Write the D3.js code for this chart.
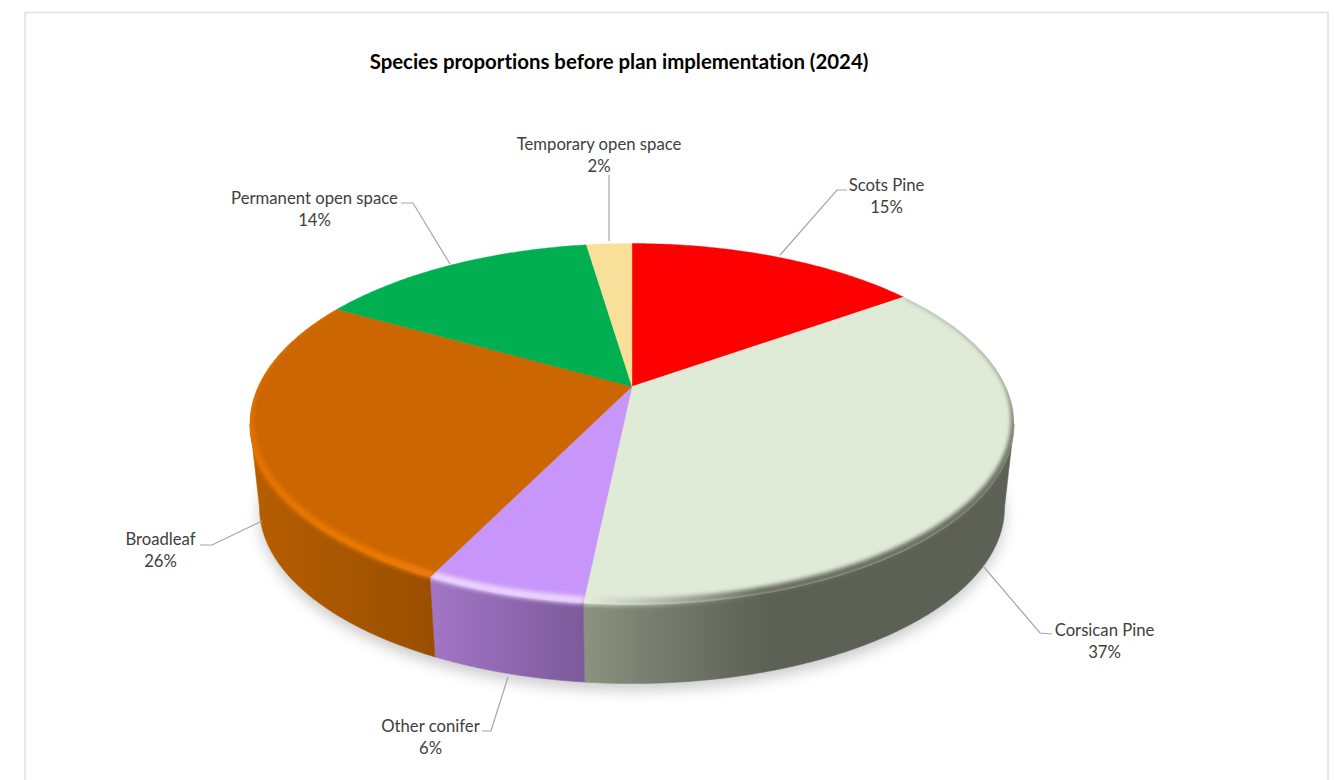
<!DOCTYPE html>
<html>
<head>
<meta charset="utf-8">
<script src="https://cdn.jsdelivr.net/npm/d3@7/dist/d3.min.js"></script>
<style>
html, body { margin: 0; padding: 0; background: #fff; }
svg { display: block; }
text { font-family: Lato, "Noto Sans", sans-serif; font-variant-ligatures: none; }
</style>
</head>
<body>
<svg id="chart" width="1334" height="780"></svg>
<script>
// Species shares in percent, clockwise from twelve o'clock
const species = ["Scots Pine", "Corsican Pine", "Other conifer", "Broadleaf", "Permanent open space", "Temporary open space"];
const shares = [15.15, 36.5, 5.6, 25.95, 14.45, 2.35];
const chartTitle = "Species proportions before plan implementation (2024)";

// Face colours, one per species
const faceColours = ["#ff0000", "#e0ebd7", "#c896fa", "#cc6600", "#00b050", "#f9e09a"];
// Side wall shading as [x, colour] stops, rim highlight likewise
const wallStops = [
  null,
  [[585, "#8b927f"], [680, "#70766a"], [770, "#5c6055"], [1014, "#5c6055"]],
  [[431, "#a375c6"], [586, "#7b5a9a"]],
  [[255, "#b65d02"], [435, "#9a4f00"]],
  null, null
];
const rimStops = [
  null,
  [[585, "#e6ecdd"], [660, "#b4baab"], [760, "#666b5d"], [1014, "#666b5d"]],
  [[431, "#ead4ff"], [586, "#ead4ff"]],
  [[250, "#e87400"], [431, "#ee7c08"]],
  null, null
];

// Leader lines and label anchors for each species
const labelLayout = [
  { x: 886.5, y: 190.5, line: [[847, 190], [837, 190], [780, 255]] },
  { x: 1104.5, y: 635.5, line: [[1052, 634], [1040, 633], [983, 566]] },
  { x: 430.5, y: 731.5, line: [[482, 731], [491, 731], [508, 677]] },
  { x: 160.5, y: 544.5, line: [[200, 545], [212, 545], [262, 521]] },
  { x: 314.5, y: 203.5, line: [[401, 203], [413, 203], [450, 264]] },
  { x: 599, y: 149.5, line: [[609, 175], [609, 241]] }
];

// Perspective disc: apex of the pie on screen, half axes and tilt strength
const apex = { x: 632, y: 386.5 };
const axisX = 373.7, axisY = 172.7, tilt = 0.2078;
// The lower disc sits further from the viewer, so it is a little smaller
const baseScale = 0.975, baseDrop = 84.5;
const wallFrom = 102 * Math.PI / 180, wallTo = 258 * Math.PI / 180;

function topPoint(theta, r = 1) {
  const u = Math.sin(theta) * r, v = -Math.cos(theta) * r, w = 1 - tilt * v;
  return [apex.x + axisX * u / w, apex.y + axisY * v / w];
}
function basePoint(theta) {
  const [x, y] = topPoint(theta);
  return [apex.x + baseScale * (x - apex.x), apex.y + baseDrop + baseScale * (y - apex.y)];
}
function samples(a0, a1) {
  const n = Math.max(2, Math.ceil((a1 - a0) / 0.01));
  return d3.range(n + 1).map(i => a0 + (a1 - a0) * i / n);
}
// The bevel is broad along the front of the disc and fades to a hairline at the back
function rimInner(theta) {
  return 1 - (0.003 + 0.022 * Math.max(0, -Math.cos(theta)));
}

const svg = d3.select("#chart");
const line = d3.line();
const defs = svg.append("defs");

defs.append("filter").attr("id", "shadowBlur")
  .attr("x", "-10%").attr("y", "-10%").attr("width", "120%").attr("height", "120%")
  .append("feGaussianBlur").attr("stdDeviation", 7);
defs.append("filter").attr("id", "rimBlur")
  .attr("filterUnits", "userSpaceOnUse")
  .attr("x", 200).attr("y", 200).attr("width", 900).attr("height", 500)
  .append("feGaussianBlur").attr("stdDeviation", 2);

function addGradient(id, stops) {
  const x0 = stops[0][0], x1 = stops[stops.length - 1][0];
  const g = defs.append("linearGradient").attr("id", id)
    .attr("gradientUnits", "userSpaceOnUse")
    .attr("x1", x0).attr("x2", x1).attr("y1", 0).attr("y2", 0);
  stops.forEach(s => g.append("stop")
    .attr("offset", (s[0] - x0) / (x1 - x0)).attr("stop-color", s[1]));
}

// Chart frame, open along the bottom
svg.append("path")
  .attr("d", line([[25, 780], [25, 12.5], [1328, 12.5], [1328, 780]]))
  .attr("fill", "none").attr("stroke", "#e0e0e0").attr("stroke-width", 1.5);

svg.append("text")
  .attr("x", 619).attr("y", 69).attr("text-anchor", "middle")
  .attr("font-size", 20.4).attr("font-weight", 700).attr("fill", "#000")
  .text(chartTitle);

const arcs = d3.pie().sort(null).value(d => d).startAngle(0).endAngle(2 * Math.PI)(shares);

// Soft drop shadow under the lower disc
svg.append("path")
  .attr("d", line(samples(0, 2 * Math.PI).map(basePoint)) + "Z")
  .attr("transform", "translate(0,7)")
  .attr("fill", "#000").attr("fill-opacity", 0.2)
  .attr("filter", "url(#shadowBlur)");

// Side walls of the front-facing slices
const wallPaths = arcs.map(a => {
  const from = Math.max(a.startAngle, wallFrom), to = Math.min(a.endAngle, wallTo);
  if (to <= from) return null;
  const angles = samples(from, to);
  return line(angles.map(t => topPoint(t)).concat(angles.slice().reverse().map(basePoint))) + "Z";
});
arcs.forEach((a, i) => {
  if (!wallPaths[i] || !wallStops[i]) return;
  addGradient("wall" + i, wallStops[i]);
  svg.append("path").attr("d", wallPaths[i])
    .attr("fill", `url(#wall${i})`)
    .attr("stroke", `url(#wall${i})`).attr("stroke-width", 0.5);
});

// Top face of every slice
const facePaths = arcs.map(a =>
  line([[apex.x, apex.y]].concat(samples(a.startAngle, a.endAngle).map(t => topPoint(t)))) + "Z");
svg.append("g").selectAll("path").data(arcs).join("path")
  .attr("d", (d, i) => facePaths[i])
  .attr("fill", (d, i) => faceColours[i])
  .attr("stroke", (d, i) => faceColours[i]).attr("stroke-width", 0.4);

// Bevelled rim along the front edge, confined to its own slice and wall
arcs.forEach((a, i) => {
  if (!rimStops[i]) return;
  addGradient("rim" + i, rimStops[i]);
  defs.append("clipPath").attr("id", "rimClip" + i)
    .append("path").attr("d", facePaths[i] + (wallPaths[i] || ""));
  const angles = samples(a.startAngle, a.endAngle);
  const band = angles.map(t => topPoint(t, 1.004))
    .concat(angles.slice().reverse().map(t => topPoint(t, rimInner(t))));
  svg.append("g").attr("clip-path", `url(#rimClip${i})`)
    .append("path").attr("d", line(band) + "Z")
    .attr("fill", `url(#rim${i})`)
    .attr("filter", "url(#rimBlur)");
});

// Leader lines
svg.append("g").selectAll("path").data(labelLayout).join("path")
  .attr("d", d => line(d.line))
  .attr("fill", "none").attr("stroke", "#a6a6a6").attr("stroke-width", 1.2);

// Two-line labels: species name and rounded share
const labels = svg.append("g").selectAll("text").data(labelLayout).join("text")
  .attr("text-anchor", "middle").attr("font-size", 16.7).attr("fill", "#404040");
labels.append("tspan").attr("x", d => d.x).attr("y", d => d.y)
  .text((d, i) => species[i]);
labels.append("tspan").attr("x", d => d.x).attr("y", d => d.y + 22)
  .text((d, i) => Math.round(shares[i]) + "%");
</script>
</body>
</html>
